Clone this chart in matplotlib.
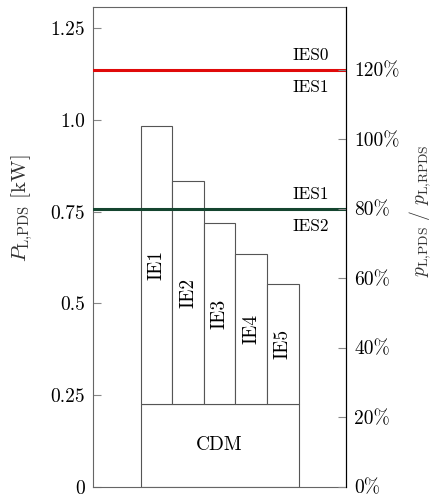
import matplotlib
matplotlib.use("Agg")
import matplotlib.pyplot as plt
import numpy as np

# power loss values [kW]
P_CDM = 0.225
IE_CLASSES = ["IE1", "IE2", "IE3", "IE4", "IE5"]
P_IE = [0.983, 0.833, 0.720, 0.634, 0.553]
P_RPDS = 0.9475               # reference PDS loss, 100 %
IES_LIMITS = [1.2, 0.8]       # IES0/IES1 and IES1/IES2 borders (relative)
IES_LABELS = [("IES0", "IES1"), ("IES1", "IES2")]
IES_COLORS = ["#e00a0a", "#14452f"]
LEFT_TICKS = [0, 0.25, 0.5, 0.75, 1.0, 1.25]
LEFT_TICKLABELS = ["0", "0.25", "0.5", "0.75", "1.0", "1.25"]
RIGHT_TICKS = [0, 20, 40, 60, 80, 100, 120]

plt.rcParams["font.family"] = "serif"
plt.rcParams["font.serif"] = ["cmr10", "DejaVu Serif"]
plt.rcParams["mathtext.fontset"] = "cm"
plt.rcParams["axes.unicode_minus"] = False

fig = plt.figure(figsize=(4.33, 5.0), dpi=100)
ax = fig.add_axes([0.2155, 0.0266, 0.5835, 0.9588])
ymax = 1.307

x = np.arange(2, 2 + len(IE_CLASSES))
ax.bar(4, P_CDM, width=5, bottom=0, color="white", edgecolor="#555555", linewidth=0.8, zorder=2)
ax.bar(x, np.array(P_IE) - P_CDM, width=1, bottom=P_CDM, color="white",
       edgecolor="#555555", linewidth=0.8, zorder=2)
ax.text(4, P_CDM / 2, "CDM", ha="center", va="center", fontsize=14, zorder=3)
for xi, name, top in zip(x, IE_CLASSES, P_IE):
    ax.text(xi, (P_CDM + top) / 2, name, rotation=90, ha="center", va="center",
            fontsize=14, zorder=3)

for lim, (above, below), col in zip(IES_LIMITS, IES_LABELS, IES_COLORS):
    y = lim * P_RPDS
    ax.axhline(y, color=col, linewidth=2.2, zorder=4)
    ax.text(7.45, y + 0.038, above, ha="right", va="center", fontsize=12.5)
    ax.text(7.45, y - 0.047, below, ha="right", va="center", fontsize=12.5)

ax.set_xlim(0, 8)
ax.set_ylim(0, ymax)
ax.set_xticks([])
ax.set_yticks(LEFT_TICKS)
ax.set_yticklabels(LEFT_TICKLABELS)
ax.tick_params(axis="y", direction="in", length=6, color="#888888", labelsize=14, pad=6)
for side in ["left", "bottom", "top"]:
    ax.spines[side].set_color("#666666")
ax.spines["right"].set_color("black")

ax2 = ax.twinx()
ax2.set_ylim(0, ymax / P_RPDS * 100)
ax2.set_yticks(RIGHT_TICKS)
ax2.set_yticklabels([f"{t}%" for t in RIGHT_TICKS])
ax2.tick_params(axis="y", direction="in", length=6, color="#888888", labelsize=14, pad=6)
for side in ["left", "bottom", "top"]:
    ax2.spines[side].set_visible(False)
ax2.spines["right"].set_color("black")

fig.text(0.051, 0.584, r"$P_{\mathrm{L}{,}\mathrm{PDS}}$ [kW]", rotation=90,
         ha="center", va="center", fontsize=15, color="#333333")
fig.text(0.970, 0.578, r"$p_{\mathrm{L}{,}\mathrm{PDS}}\ /\ p_{\mathrm{L}{,}\mathrm{RPDS}}$",
         rotation=90, ha="center", va="center", fontsize=14, color="#333333")

fig.savefig("out.png", dpi=100, facecolor="white")
